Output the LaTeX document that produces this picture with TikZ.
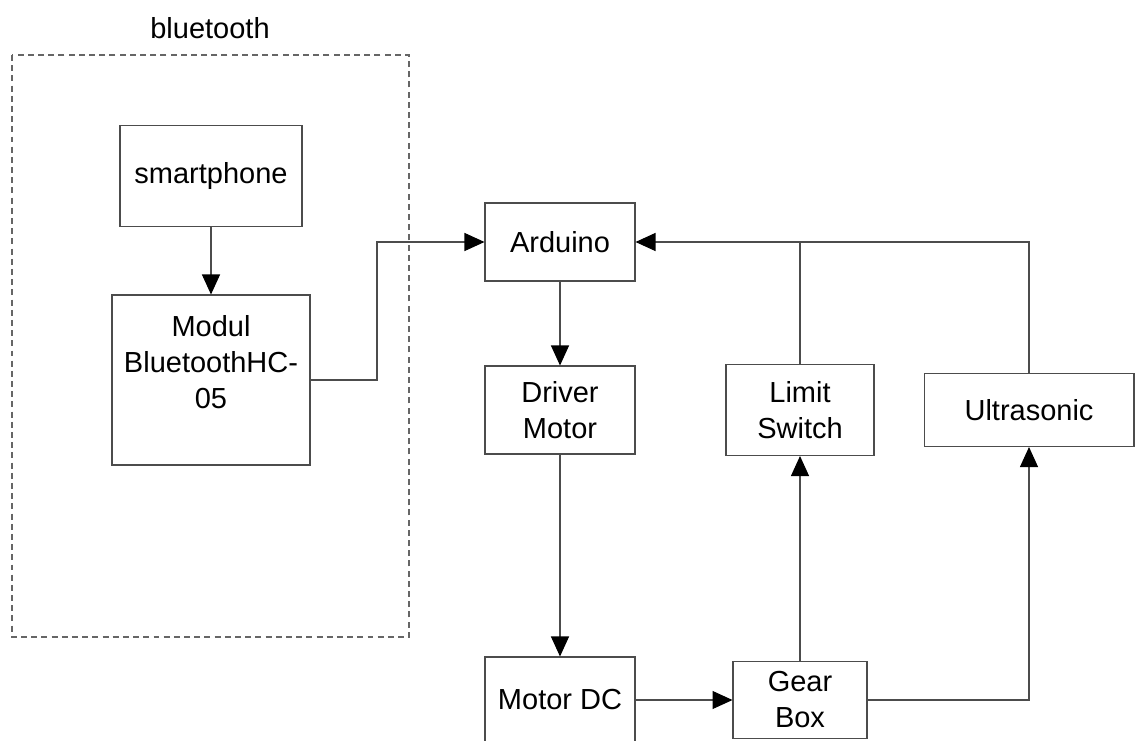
\documentclass[tikz,border=0pt]{standalone}
\usepackage{fontspec}
\setmainfont{Liberation Sans}
\usetikzlibrary{arrows.meta}

\begin{document}
\begin{tikzpicture}[x=0.02cm,y=-0.02cm,>={Triangle[length=0.4cm,width=0.36cm,color=black]},
    blk/.style={draw=black!70,line width=0.6pt,inner sep=0pt,align=center,
      font=\fontsize{16.5pt}{20.5pt}\selectfont},
    wire/.style={draw=black!70,line width=0.6pt}]
		\fill[white] (0,0) rectangle (1135,740);
		\useasboundingbox (0,0) rectangle (1135,740);
		% bluetooth group
		\draw[black!60,line width=0.6pt,dash pattern=on 3.4pt off 2.4pt] (12,55) rectangle (409,637);
		\node[font=\fontsize{16.5pt}{20.5pt}\selectfont] (btlabel) at (210,28) {bluetooth};
		\node[blk,minimum width=3.64cm,minimum height=2.02cm] (phone) at (211,176) {smartphone};
		\node[blk,minimum width=3.96cm,minimum height=3.4cm] (modul) at (211,380) {Modul\\BluetoothHC-\\05\\\mbox{}};
		% controller and actuators
		\node[blk,minimum width=3.0cm,minimum height=1.56cm] (arduino) at (560,242) {Arduino};
		\node[blk,minimum width=3.0cm,minimum height=1.76cm] (driver) at (560,410) {Driver\\Motor};
		\node[blk,minimum width=2.96cm,minimum height=1.82cm] (limit) at (800,410) {Limit\\Switch};
		\node[blk,minimum width=4.2cm,minimum height=1.46cm] (ultra) at (1029,410) {Ultrasonic};
		\node[blk,minimum width=3.0cm,minimum height=1.72cm] (motordc) at (560,700) {Motor DC};
		\node[blk,minimum width=2.68cm,minimum height=1.54cm] (gearbox) at (800,700) {Gear\\Box};
		\coordinate (bend) at (377,380);
		% connectors
		\draw[wire,->] (phone) -- (modul);
		\draw[wire,->] (modul.east) -- (bend) |- (arduino.west);
		\draw[wire,->] (arduino) -- (driver);
		\draw[wire,->] (driver) -- (motordc);
		\draw[wire,->] (motordc) -- (gearbox);
		\draw[wire,->] (gearbox) -- (limit);
		\draw[wire,->] (gearbox.east) -| (ultra.south);
		\draw[wire,->] (ultra.north) |- (arduino.east);
		\draw[wire] (limit.north) -- (limit.north |- arduino.east);
	\end{tikzpicture}
\end{document}
